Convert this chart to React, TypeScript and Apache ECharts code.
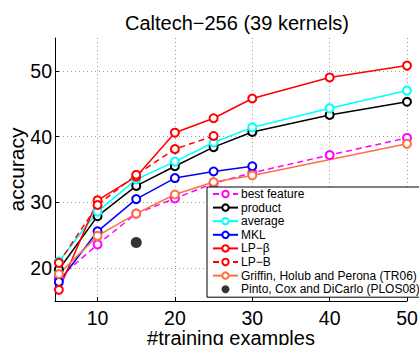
import React, { useEffect, useRef } from "react";
import * as echarts from "echarts";

const xBest = [5, 10, 15, 20, 25, 30, 40, 50];
const bestFeature = [18.5, 23.6, 28.3, 30.6, 32.9, 34.5, 37.2, 39.8];
const xProduct = [5, 10, 15, 20, 25, 30, 40, 50];
const product = [19.8, 27.9, 32.5, 35.5, 38.4, 40.7, 43.3, 45.3];
const xAverage = [5, 10, 15, 20, 25, 30, 40, 50];
const average = [21.0, 28.6, 33.5, 36.2, 39.1, 41.4, 44.3, 47.0];
const xMKL = [5, 10, 15, 20, 25, 30];
const mkl = [17.9, 25.6, 30.5, 33.7, 34.7, 35.5];
const xLPbeta = [5, 10, 15, 20, 25, 30, 40, 50];
const lpBeta = [16.7, 30.3, 33.9, 40.6, 42.8, 45.8, 49.0, 50.8];
const xLPB = [5, 10, 15, 20, 25];
const lpB = [20.8, 29.6, 34.2, 38.1, 40.1];
const xGriffin = [5, 10, 15, 20, 25, 30, 50];
const griffin = [19.1, 24.9, 28.3, 31.2, 33.1, 34.1, 38.9];
const xPinto = [15];
const pinto = [23.9];

const xTicks = [10, 20, 30, 40, 50];
const yTicks = [20, 30, 40, 50];

const zip = (xs: number[], ys: number[]) => xs.map((x, i) => [x, ys[i]]);

const FONT = "Liberation Sans";

export default function App() {
  const ref = useRef<HTMLDivElement>(null);
  useEffect(() => {
    const chart = echarts.init(ref.current!, null, { renderer: "svg" });
    const lineSeries = (
      name: string,
      xs: number[],
      ys: number[],
      color: string,
      dashed: boolean
    ) => ({
      name,
      type: "line",
      data: zip(xs, ys),
      symbol: "emptyCircle",
      symbolSize: 8,
      itemStyle: { color, borderWidth: 1.5 },
      lineStyle: { color, width: 1.5, type: dashed ? [6, 4] : "solid" },
      emphasis: { disabled: true },
    });
    chart.setOption({
      animation: false,
      title: {
        text: "Caltech\u2212256 (39 kernels)",
        left: 232,
        textAlign: "center",
        top: 8,
        textStyle: { fontFamily: FONT, fontSize: 20, fontWeight: "normal", color: "#000" },
      },
      grid: { left: 55, right: 12, top: 38, bottom: 44, outerBoundsMode: "none", containLabel: false },
      xAxis: {
        type: "value",
        min: 4.5,
        max: 50,
        name: "#training examples",
        nameLocation: "middle",
        nameGap: 27,
        nameMoveOverlap: false,
        nameTextStyle: { fontFamily: FONT, fontSize: 20, color: "#000" },
        axisLine: { show: true, lineStyle: { color: "#000", width: 1 } },
        axisTick: { show: true, inside: true, length: 4, customValues: xTicks, lineStyle: { color: "#000" } },
        axisLabel: { customValues: xTicks, fontFamily: FONT, fontSize: 19.5, color: "#000", margin: 7 },
        splitLine: { show: true, lineStyle: { color: "#999", type: [1, 3], width: 1 } },
      },
      yAxis: {
        type: "value",
        min: 15,
        max: 55,
        name: "accuracy",
        nameLocation: "middle",
        nameGap: 28,
        nameMoveOverlap: false,
        nameTextStyle: { fontFamily: FONT, fontSize: 21, color: "#000" },
        axisLine: { show: true, lineStyle: { color: "#000", width: 1 } },
        axisTick: { show: true, inside: true, length: 4, customValues: yTicks, lineStyle: { color: "#000" } },
        axisLabel: { customValues: yTicks, fontFamily: FONT, fontSize: 19.5, color: "#000", margin: 3 },
        splitLine: { show: true, lineStyle: { color: "#999", type: [1, 3], width: 1 } },
      },
      legend: {
        orient: "vertical",
        left: 207,
        top: 187,
        padding: [1, 3, 2, 5],
        itemWidth: 25,
        itemHeight: 8,
        itemGap: 1.6,
        backgroundColor: "#fff",
        borderColor: "#000",
        borderWidth: 1,
        borderRadius: 0,
        textStyle: { fontFamily: FONT, fontSize: 12, lineHeight: 12, color: "#000", padding: [0, 0, 0, -2] },
        data: [
          "best feature",
          "product",
          "average",
          "MKL",
          "LP\u2212\u03b2",
          "LP\u2212B",
          "Griffin, Holub and Perona (TR06)",
          "Pinto, Cox and DiCarlo (PLOS08)",
        ],
      },
      series: [
        lineSeries("best feature", xBest, bestFeature, "#ff00ff", true),
        lineSeries("product", xProduct, product, "#000000", false),
        lineSeries("average", xAverage, average, "#00ffff", false),
        lineSeries("MKL", xMKL, mkl, "#0000ff", false),
        lineSeries("LP\u2212\u03b2", xLPbeta, lpBeta, "#ff0000", false),
        lineSeries("LP\u2212B", xLPB, lpB, "#ff0000", true),
        lineSeries("Griffin, Holub and Perona (TR06)", xGriffin, griffin, "#ff7040", false),
        {
          name: "Pinto, Cox and DiCarlo (PLOS08)",
          type: "scatter",
          data: zip(xPinto, pinto),
          symbol: "circle",
          symbolSize: 11,
          itemStyle: { color: "#000" },
          emphasis: { disabled: true },
        },
      ],
    });
    return () => chart.dispose();
  }, []);
  return <div ref={ref} style={{ width: 419, height: 345, position: "absolute", left: 0, top: 0 }} />;
}
